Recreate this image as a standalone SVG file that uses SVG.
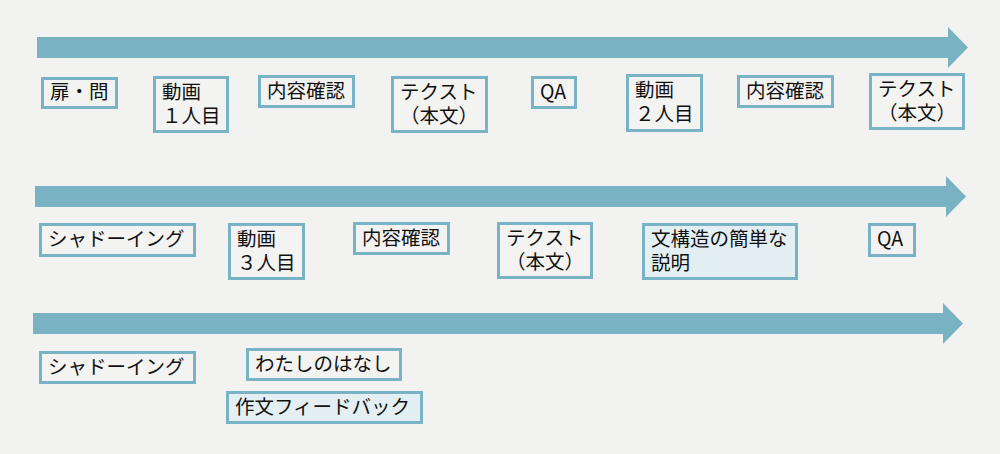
<svg xmlns="http://www.w3.org/2000/svg" width="1000" height="454" viewBox="0 0 1000 454">
  <style>
    .arrow { fill: #79b2c3; }
    .box { fill: #f3f3f1; stroke: #79b4c6; stroke-width: 3; }
    .box.hl { fill: #e3eff3; }
    text { font-family: "Noto Sans CJK JP", "Noto Sans", sans-serif; font-size: 19.5px; fill: #111111; }
  </style>
  <rect width="1000" height="454" fill="#f2f2f0"/>
  <g id="timeline-arrows">
    <polygon class="arrow" points="37,37 948,37 948,27 968,47.5 948,68 948,58 37,58"/>
    <polygon class="arrow" points="35,186 946,186 946,176 966,196.5 946,217 946,207 35,207"/>
    <polygon class="arrow" points="33,313 943,313 943,303 963,323.5 943,344 943,334 33,334"/>
  </g>
  <g id="r1-door">
    <rect class="box" x="42.5" y="78.5" width="74" height="29"/>
    <text x="50" y="99">扉・問</text>
  </g>
  <g id="r1-video1">
    <rect class="box" x="154.5" y="77.5" width="73" height="54"/>
    <text x="162" y="99">動画<tspan x="162" dy="24">１人目</tspan></text>
  </g>
  <g id="r1-check1">
    <rect class="box" x="259.5" y="76.5" width="94" height="30"/>
    <text x="267" y="98">内容確認</text>
  </g>
  <g id="r1-text1">
    <rect class="box" x="392.5" y="77.5" width="94" height="54"/>
    <text x="400" y="99">テクスト<tspan x="400" dy="24">（本文）</tspan></text>
  </g>
  <g id="r1-qa">
    <rect class="box" x="532.5" y="77.5" width="43" height="30"/>
    <text x="540" y="99">QA</text>
  </g>
  <g id="r1-video2">
    <rect class="box" x="627.5" y="75.5" width="74" height="55"/>
    <text x="635" y="97">動画<tspan x="635" dy="24">２人目</tspan></text>
  </g>
  <g id="r1-check2">
    <rect class="box" x="738.5" y="76.5" width="94" height="30"/>
    <text x="746" y="98">内容確認</text>
  </g>
  <g id="r1-text2">
    <rect class="box" x="870.5" y="74.5" width="93" height="54"/>
    <text x="878" y="96">テクスト<tspan x="878" dy="24">（本文）</tspan></text>
  </g>
  <g id="r2-shadowing">
    <rect class="box" x="40.5" y="224.5" width="154" height="31"/>
    <text x="48" y="246">シャドーイング</text>
  </g>
  <g id="r2-video3">
    <rect class="box" x="229.5" y="224.5" width="74" height="54"/>
    <text x="237" y="246">動画<tspan x="237" dy="24">３人目</tspan></text>
  </g>
  <g id="r2-check">
    <rect class="box" x="354.5" y="223.5" width="94" height="30"/>
    <text x="362" y="245">内容確認</text>
  </g>
  <g id="r2-text">
    <rect class="box" x="498.5" y="223.5" width="93" height="54"/>
    <text x="506" y="245">テクスト<tspan x="506" dy="24">（本文）</tspan></text>
  </g>
  <g id="r2-structure">
    <rect class="box hl" x="643.5" y="224.5" width="153" height="54"/>
    <text x="651" y="246">文構造の簡単な<tspan x="651" dy="24">説明</tspan></text>
  </g>
  <g id="r2-qa">
    <rect class="box" x="869.5" y="224.5" width="45" height="31"/>
    <text x="877" y="246">QA</text>
  </g>
  <g id="r3-shadowing">
    <rect class="box" x="40.5" y="352.5" width="154" height="30"/>
    <text x="48" y="374">シャドーイング</text>
  </g>
  <g id="r3-story">
    <rect class="box" x="247.5" y="349.5" width="153" height="30"/>
    <text x="255" y="371">わたしのはなし</text>
  </g>
  <g id="r3-feedback">
    <rect class="box hl" x="227.5" y="392.5" width="194" height="30"/>
    <text x="235" y="414">作文フィードバック</text>
  </g>
</svg>
